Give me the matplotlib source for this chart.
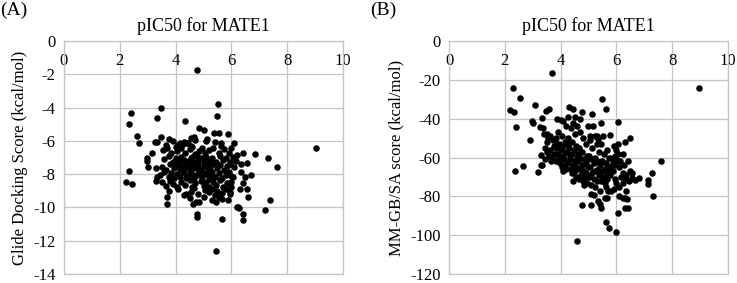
import matplotlib
matplotlib.use("Agg")
import matplotlib.pyplot as plt

plt.rcParams['font.family'] = ['Liberation Serif', 'DejaVu Serif']

# panel A: pIC50 vs Glide docking score
x_a = [4.75, 5.53, 5.49, 3.49, 2.40, 3.35, 4.32, 2.32, 4.83, 5.00,
       2.61, 2.69, 3.47, 3.25, 3.35, 5.57, 5.88, 2.32, 2.23, 2.43,
       9.04, 7.64, 7.31, 6.85, 7.37, 7.19, 5.45, 5.67, 4.77, 4.77,
       6.25, 6.28, 6.41, 6.41, 6.61, 3.68, 3.70, 2.99, 2.99, 3.02,
       3.14, 3.28, 3.35, 3.30, 4.37, 4.61, 4.72, 4.85, 5.57, 5.87,
       6.00, 6.10, 6.40, 6.55, 6.70, 6.50, 6.57, 6.40, 6.30, 6.35,
       6.35, 6.20, 6.15, 6.00, 6.05, 5.38, 5.64, 5.64, 5.13, 5.42,
       6.20, 5.96, 4.55, 4.65, 4.40,
       4.70, 4.45, 4.25, 4.30, 3.65, 3.75, 3.90, 4.10, 4.15, 5.10, 4.55,
       3.55, 3.70, 3.85, 4.05, 4.20, 4.35, 4.50, 4.60, 4.85, 4.95,
       5.05, 5.20, 5.35, 5.55, 5.75, 5.90, 4.00, 4.70,
       3.60, 3.75, 3.90, 4.00, 4.10, 4.20, 4.30, 4.40, 4.55, 4.65,
       4.75, 4.80, 4.90, 5.00, 5.10, 5.20, 5.30, 5.45, 5.60, 5.70,
       5.80, 5.95, 6.05,
       3.50, 3.65, 3.80, 3.95, 4.05, 4.15, 4.25, 4.35, 4.45, 4.50,
       4.60, 4.70, 4.80, 4.90, 5.00, 5.05, 5.15, 5.25, 5.35, 5.50,
       5.60, 5.75, 5.85, 5.95, 6.10,
       3.45, 3.60, 3.75, 3.85, 3.95, 4.05, 4.15, 4.30, 4.40, 4.55,
       4.65, 4.75, 4.85, 4.95, 5.10, 5.20, 5.30, 5.40, 5.55, 5.65,
       5.80, 5.90, 6.00,
       3.50, 3.65, 3.80, 3.90, 4.05, 4.20, 4.35, 4.50, 4.60, 4.70,
       4.90, 5.00, 5.10, 5.20, 5.35, 5.45, 5.60, 5.70, 5.85, 6.00,
       3.75, 4.10, 4.30, 4.55, 4.65, 4.80, 5.05, 5.20, 5.30, 5.40,
       5.50, 5.65, 5.80, 5.95,
       4.50, 5.00, 5.30, 5.45, 5.65,
       4.12, 4.28, 4.48, 4.62, 4.78, 4.95, 5.12, 5.28, 4.38, 4.58]
y_a = [-1.75, -3.80, -4.50, -4.05, -4.35, -4.60, -4.80, -5.00, -5.25, -5.35,
       -5.70, -6.15, -5.75, -6.05, -6.05, -5.55, -5.60, -7.80, -8.50, -8.60,
       -6.45, -7.60, -7.05, -6.80, -9.55, -10.15, -12.60, -10.70, -10.55, -10.40,
       -9.95, -10.05, -10.40, -10.75, -9.35, -9.80, -9.40, -7.05, -7.20, -7.55,
       -6.75, -7.65, -8.20, -8.40, -9.20, -9.80, -9.70, -9.65, -9.40, -9.55,
       -6.40, -6.10, -6.70, -7.35, -8.05, -8.15, -8.90, -8.55, -8.90, -7.40,
       -7.90, -6.85, -7.20, -8.50, -8.20, -5.55, -6.10, -6.30, -5.90, -6.05,
       -9.95, -9.10, -5.85, -5.75, -6.10,
       -5.95, -6.15, -6.20, -6.05, -6.25, -5.90, -6.00, -6.25, -6.10, -6.00, -6.30,
       -6.55, -6.40, -6.70, -6.60, -6.45, -6.75, -6.50, -6.35, -6.60, -6.45,
       -6.75, -6.55, -6.40, -6.70, -6.50, -6.75, -6.35, -6.80,
       -7.10, -6.90, -7.25, -7.00, -7.20, -6.95, -7.15, -7.30, -7.05, -7.25,
       -6.90, -7.15, -7.00, -7.25, -6.95, -7.20, -7.05, -7.30, -6.90, -7.15,
       -7.00, -7.25, -6.95,
       -7.55, -7.75, -7.40, -7.65, -7.45, -7.70, -7.50, -7.60, -7.40, -7.75,
       -7.50, -7.65, -7.40, -7.70, -7.50, -7.35, -7.75, -7.55, -7.40, -7.65,
       -7.45, -7.75, -7.50, -7.40, -7.60,
       -8.05, -7.90, -8.20, -7.95, -8.25, -8.00, -8.15, -7.85, -8.10, -7.95,
       -8.25, -8.05, -7.85, -8.20, -8.00, -8.30, -7.90, -8.15, -7.95, -8.25,
       -8.05, -7.85, -8.10,
       -8.50, -8.70, -8.40, -8.60, -8.75, -8.45, -8.65, -8.35, -8.80, -8.55,
       -8.40, -8.70, -8.50, -8.80, -8.45, -8.65, -8.35, -8.75, -8.55, -8.75,
       -9.00, -8.90, -9.25, -9.05, -8.85, -9.20, -8.95, -9.10, -8.90, -9.25,
       -9.00, -9.15, -8.90, -9.20,
       -9.45, -9.35, -9.55, -9.70, -9.50,
       -7.35, -7.85, -7.20, -8.05, -7.55, -7.85, -7.35, -8.10, -8.25, -6.95]

# panel B: pIC50 vs MM-GB/SA score
x_b = [3.69, 8.96, 2.29, 2.56, 2.18, 2.32, 2.39, 3.10, 3.60, 3.46,
       2.97, 3.00, 2.91, 3.27, 2.37, 2.67, 3.19, 3.31, 3.28, 5.48,
       5.61, 5.44, 5.13, 4.75, 4.44, 4.29, 5.78, 6.05, 6.50, 7.60,
       7.27, 7.15, 7.31, 6.80, 6.05, 5.64, 5.73, 5.97, 4.58, 4.75,
       5.10, 5.43, 5.45, 6.30, 6.42, 6.30, 6.38, 6.09, 5.58, 5.70,
       5.80, 3.33, 3.36, 3.86, 4.00, 4.10, 4.19, 3.50, 3.61, 3.33,
       6.30, 6.05, 6.55, 6.55, 6.22, 6.30, 6.65, 7.12, 6.33, 5.19,
       5.33, 5.65, 6.22, 4.60, 4.97, 5.33, 5.05, 5.30, 4.69, 4.50,
       3.42, 3.55, 3.72, 3.86, 3.45, 3.62, 3.50, 3.75, 3.58, 3.68,
       3.45, 3.65, 3.78, 3.52,
       3.90, 4.05, 3.85, 4.15, 3.95, 4.10, 3.82, 4.00, 4.18, 3.88,
       4.08, 3.97, 4.12, 3.85, 3.97, 4.15, 4.05, 4.08, 4.20, 3.92, 4.02,
       4.28, 4.45, 4.38, 4.52, 4.25, 4.42, 4.55, 4.30, 4.48, 4.22,
       4.40, 4.58, 4.35, 4.50, 4.28, 4.45, 4.55, 4.38, 4.50, 4.42,
       4.55, 4.45, 4.32, 4.25,
       4.68, 4.82, 4.92, 4.65, 4.78, 4.95, 4.70, 4.85, 4.62, 4.90,
       4.75, 4.98, 4.68, 4.82, 4.92, 4.72, 4.88, 4.65, 4.80, 4.95,
       4.85, 4.75, 4.90, 4.62,
       5.15, 5.25, 5.05, 5.32, 5.12, 5.38, 5.02, 5.22, 5.10, 5.30,
       5.18, 5.05, 5.35, 5.25, 5.12, 5.38, 5.02, 5.20, 5.30, 5.10,
       5.25, 5.08,
       5.52, 5.45, 5.68, 5.55, 5.75, 5.48, 5.62, 5.42, 5.72, 5.58,
       5.48, 5.65, 5.78, 5.52, 5.68, 5.45, 5.58, 5.42, 5.62,
       5.92, 6.00, 5.94, 6.05, 5.85, 6.01, 6.12, 5.88, 5.94, 6.08,
       5.82, 5.87, 6.15, 5.98, 6.10, 5.90, 5.95,
       6.25, 6.40, 6.28, 6.48, 6.35, 6.25, 6.45]
y_b = [-16.4, -24.1, -24.4, -29.5, -35.4, -36.8, -44.4, -33.0, -35.0, -36.0,
       -41.0, -42.0, -51.2, -44.4, -66.8, -64.4, -67.6, -63.9, -58.8, -30.0,
       -35.0, -42.4, -37.6, -36.8, -35.0, -34.0, -48.6, -41.5, -49.8, -61.7,
       -68.1, -73.6, -80.0, -70.7, -88.5, -93.0, -96.4, -98.5, -102.9, -84.6,
       -84.6, -84.2, -86.0, -86.0, -86.0, -81.0, -81.5, -80.0, -80.8, -77.5,
       -77.0, -39.6, -45.0, -40.0, -40.6, -41.0, -44.0, -47.8, -49.0, -64.0,
       -52.0, -53.0, -68.0, -70.7, -68.0, -70.7, -71.7, -71.7, -77.0, -79.3,
       -82.5, -81.0, -81.0, -43.7, -44.0, -50.5, -48.8, -48.8, -40.0, -39.0,
       -48, -50, -51, -53, -55, -56, -57, -58, -59, -60.5,
       -61, -62, -54, -52,
       -47, -49, -50, -52, -53, -54, -55, -56, -57, -58,
       -59, -60, -61, -62, -63, -64, -65, -67, -66, -58.5, -55,
       -39, -42, -45, -48, -50, -52, -54, -55, -56, -57,
       -58, -60, -61, -62, -63, -64, -65, -66, -67, -68,
       -70, -72, -59, -53,
       -47, -50, -53, -55, -57, -59, -60, -61, -62, -63,
       -64, -65, -66, -67, -68, -69, -70, -71, -72, -73,
       -74, -66.5, -61.5, -58,
       -44, -49, -51, -53, -55, -57, -59, -60, -61, -62,
       -63, -65, -66, -67, -68, -69, -70, -71, -72, -74,
       -75, -79,
       -49, -53, -56, -58, -60, -62, -63, -64, -65, -66,
       -67, -68, -69, -70, -71, -72, -73, -77, -75,
       -54, -56, -59, -58, -60, -61.5, -62, -63, -64, -65,
       -66, -67, -70, -73, -75, -76, -71,
       -58, -62, -64, -67, -69, -73, -72]

x_ticks = [0, 2, 4, 6, 8, 10]
y_ticks_a = [0, -2, -4, -6, -8, -10, -12, -14]
y_ticks_b = [0, -20, -40, -60, -80, -100, -120]

grid_col = '#c4c4c4'
fs = 12

fig = plt.figure(figsize=(7.37, 2.83), dpi=100)
ax_a = fig.add_axes([64 / 737, 9 / 283, 279 / 737, 233 / 283])
ax_b = fig.add_axes([449 / 737, 9 / 283, 279 / 737, 233 / 283])

panels = [(ax_a, x_a, y_a, y_ticks_a, 'Glide Docking Score (kcal/mol)', '(A)', 0.0),
          (ax_b, x_b, y_b, y_ticks_b, 'MM-GB/SA score (kcal/mol)', '(B)', 370 / 737)]

for ax, xs, ys, yt, ylab, tag, tx in panels:
    ax.scatter(xs, ys, s=22, c='black', linewidths=0, zorder=3)
    ax.set_xlim(0, 10)
    ax.set_ylim(min(yt), 0)
    ax.set_xticks(x_ticks)
    ax.set_yticks(yt)
    ax.set_xticklabels([str(v) for v in x_ticks])
    ax.set_yticklabels([str(v) for v in yt])
    ax.grid(True, color=grid_col, linewidth=0.9, zorder=0)
    for sp in ax.spines.values():
        sp.set_color(grid_col)
        sp.set_linewidth(0.9)
    ax.tick_params(axis='x', top=False, bottom=False, labeltop=True,
                   labelbottom=False, pad=-24, labelsize=fs)
    ax.tick_params(axis='y', length=0, pad=6, labelsize=fs)
    ax.set_ylabel(ylab, fontsize=fs, labelpad=4)
    ax.set_title('pIC50 for MATE1', fontsize=13, pad=7)
    fig.text(tx, 0.995, tag, fontsize=14, ha='left', va='top')

fig.savefig('out.png', dpi=100)
